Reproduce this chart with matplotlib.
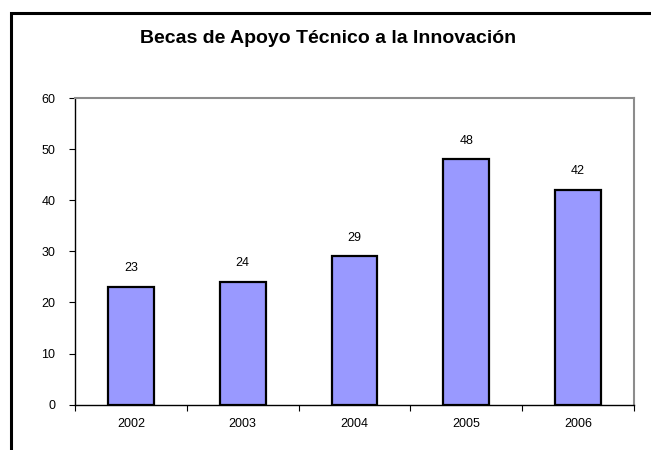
import matplotlib

matplotlib.use("Agg")
import matplotlib.pyplot as plt
from matplotlib.patches import Rectangle
from matplotlib.ticker import FixedLocator

plt.rcParams["font.family"] = ["Liberation Sans", "DejaVu Sans"]

years = ["2002", "2003", "2004", "2005", "2006"]
becas = [23, 24, 29, 48, 42]
y_ticks = [0, 10, 20, 30, 40, 50, 60]

W, H = 651, 450
fig = plt.figure(figsize=(W / 100, H / 100), dpi=100)
ax = fig.add_axes([75 / W, (H - 404.6) / H, (634 - 75) / W, (404.6 - 98) / H])

x = list(range(len(years)))
bars = ax.bar(x, becas, width=0.41, color="#9999FF", edgecolor="black", linewidth=1.6)

for xi, v in zip(x, becas):
    ax.annotate(str(v), (xi, v), xytext=(0, 13.5), textcoords="offset points",
                ha="center", va="center", fontsize=9)

ax.set_xlim(-0.5, len(years) - 0.5)
ax.set_ylim(0, 60)
ax.set_yticks(y_ticks)
ax.set_xticks(x)
ax.set_xticklabels(years)
ax.xaxis.set_minor_locator(FixedLocator([i - 0.5 for i in range(len(years) + 1)]))
ax.tick_params(axis="x", which="major", length=0, pad=9.5, labelsize=9)
ax.tick_params(axis="x", which="minor", length=4, width=0.8, direction="out")
ax.tick_params(axis="y", length=4, width=0.8, pad=10, labelsize=9)

for side in ["left", "bottom"]:
    ax.spines[side].set_color("black")
    ax.spines[side].set_linewidth(1.0)
for side in ["top", "right"]:
    ax.spines[side].set_color("#8c8c8c")
    ax.spines[side].set_linewidth(1.5)

fig.text(328 / W, 1 - 38.5 / H, "Becas de Apoyo Técnico a la Innovación",
         ha="center", va="center", fontsize=14, fontweight="bold")

# marco exterior del gráfico (cortado a la derecha y abajo)
fig.add_artist(Rectangle((11 / W, -0.2), 1.0, 1.2 - 13 / H, transform=fig.transFigure,
                         fill=False, edgecolor="black", linewidth=2.2))

fig.savefig("out.png", dpi=100)
